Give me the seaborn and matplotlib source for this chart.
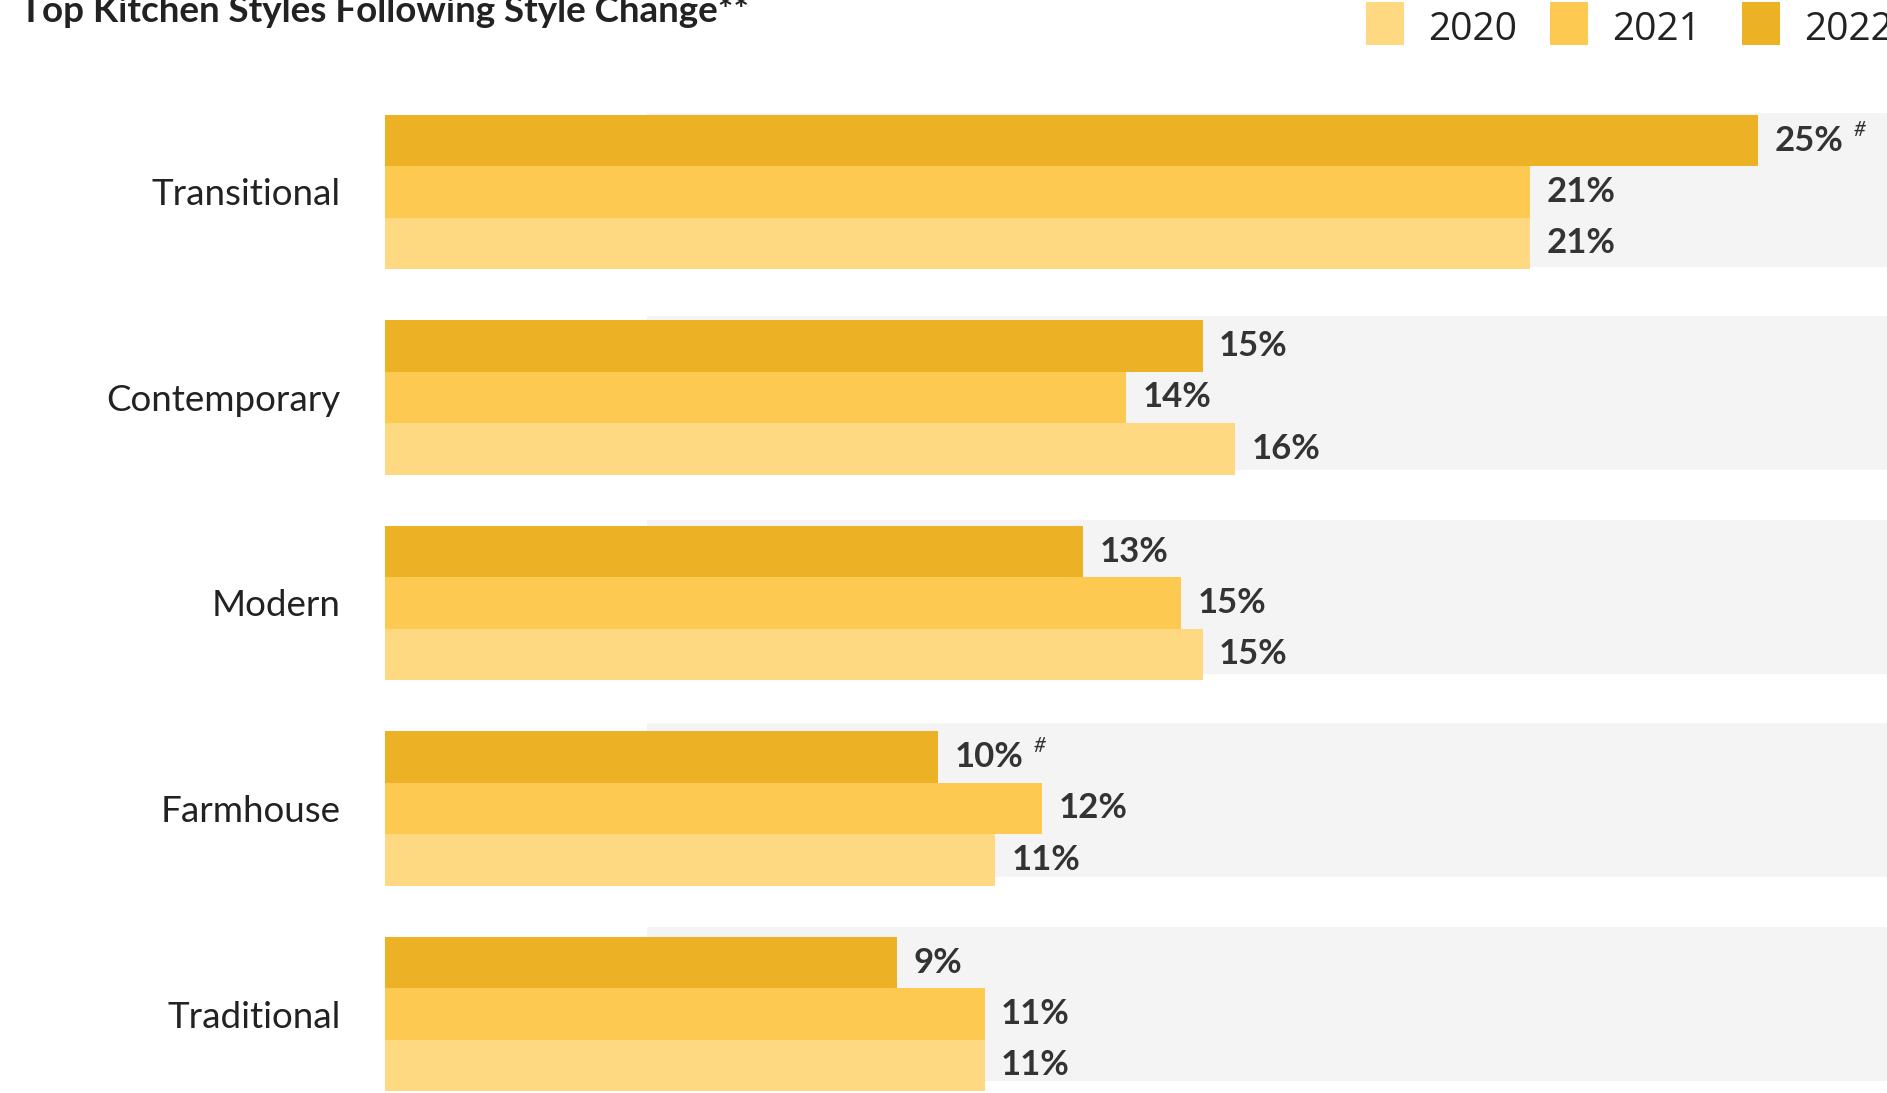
import matplotlib
matplotlib.use("Agg")
import matplotlib.pyplot as plt
import seaborn as sns
import pandas as pd
from matplotlib.patches import Rectangle

# ---- data ----
styles = ["Transitional", "Contemporary", "Modern", "Farmhouse", "Traditional"]
years = ["2022", "2021", "2020"]
vals_2022 = [25.2, 15.0, 12.8, 10.15, 9.4]
vals_2021 = [21.0, 13.6, 14.6, 12.05, 11.0]
vals_2020 = [21.0, 15.6, 15.0, 11.2, 11.0]
flag_2022 = [True, False, False, True, False]   # "#" marks
title = "Top Kitchen Styles Following Style Change**"
legend_years = ["2020", "2021", "2022"]

colors = {"2022": "#ECB125", "2021": "#FEC951", "2020": "#FFD982"}

rows = []
for y, vals in zip(years, [vals_2022, vals_2021, vals_2020]):
    for s, v in zip(styles, vals):
        rows.append({"style": s, "year": y, "value": v})
df = pd.DataFrame(rows)

sns.set_style("white")
plt.rcParams["font.family"] = ["Lato", "DejaVu Sans"]

W, H = 1887, 1093
fig = plt.figure(figsize=(W / 100, H / 100), dpi=100)
x0 = 385
ax = fig.add_axes([x0 / W, 0, 1 - x0 / W, 1])

sns.barplot(data=df, y="style", x="value", hue="year", order=styles,
            hue_order=years, palette=colors, orient="h", width=0.75,
            dodge=True, errorbar=None, saturation=1, linewidth=0,
            legend=False, ax=ax, zorder=2)

px_per_unit = 54.5
xmax = (W - x0) / px_per_unit
ax.set_xlim(0, xmax)
pitch = 205.5
top_c = 192
ax.set_ylim((H - top_c) / pitch, -top_c / pitch)

# gray background bands
band_left = (647 - x0) / px_per_unit
for i in range(len(styles)):
    ax.barh(i - 0.01 * (i + 1), xmax - band_left, left=band_left, height=0.75,
            color="#F4F4F4", zorder=0, linewidth=0)

# value labels
for cont in ax.containers[:3]:
    ax.bar_label(cont, labels=[f"{b.get_width():.0f}%" for b in cont],
                 padding=12, fontsize=25, fontweight="bold", color="#333333")

# "#" marks
cont22 = ax.containers[0]
for bar, f in zip(cont22, flag_2022):
    if f:
        ax.annotate("#", xy=(bar.get_width(), bar.get_y()),
                    xytext=(95, -5), textcoords="offset pixels",
                    ha="left", va="top", fontsize=15, color="#333333",
                    style="italic")

ax.set_xlabel("")
ax.set_ylabel("")
ax.set_xticks([])
ax.tick_params(axis="y", length=0, pad=32, labelsize=26.5, labelcolor="#222222")
for s in ax.spines.values():
    s.set_visible(False)

# title
fig.text(20 / W, 1 - 22 / H, title, fontsize=26.5, fontweight="bold",
         color="#222222", ha="left", va="baseline")

# legend
for yr, lx, tx in zip(legend_years, [1366, 1550, 1742], [1428, 1612, 1804]):
    fig.add_artist(Rectangle((lx / W, 1 - 45 / H), 38 / W, 43 / H,
                             transform=fig.transFigure, color=colors[yr],
                             linewidth=0))
    fig.text(tx / W, 1 - 40 / H, yr, fontsize=28, color="#222222",
             family=["Open Sans", "DejaVu Sans"], ha="left", va="baseline")

fig.savefig("out.png", dpi=100)
